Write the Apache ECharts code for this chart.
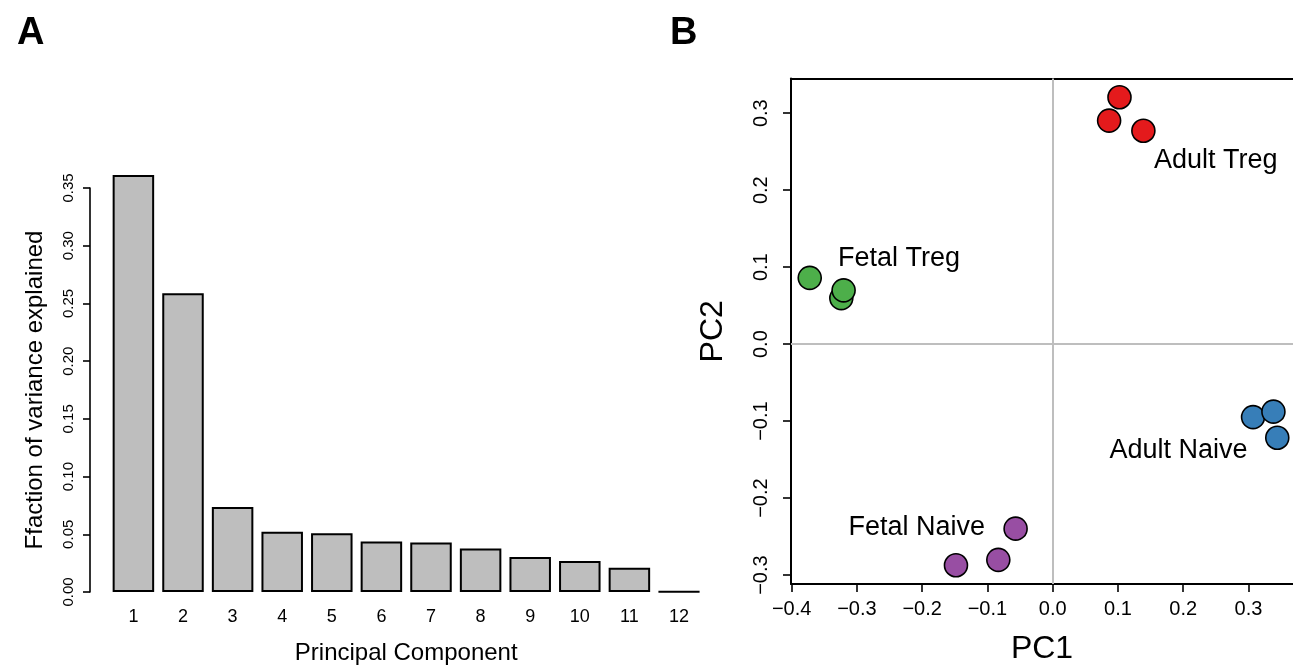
<!DOCTYPE html>
<html>
<head>
<meta charset="utf-8">
<style>
  html, body { margin: 0; padding: 0; background: #fff; }
  #main { width: 1293px; height: 670px; }
</style>
</head>
<body>
<div id="main"></div>
<script src="https://cdn.jsdelivr.net/npm/echarts@6/dist/echarts.min.js"></script>
<script>
// panel A: variance explained per principal component
var components = ['1', '2', '3', '4', '5', '6', '7', '8', '9', '10', '11', '12'];
var varianceFraction = [0.3612, 0.2588, 0.0737, 0.0523, 0.0509, 0.0437, 0.0429, 0.0377, 0.0303, 0.0269, 0.0211, 0.0003];

// panel B: PC1 / PC2 scores per group
var adultTreg  = [[0.1024, 0.3208], [0.0865, 0.2904], [0.1390, 0.2772]];
var fetalTreg  = [[-0.3723, 0.0861], [-0.3239, 0.0598], [-0.3204, 0.0699]];
var adultNaive = [[0.3071, -0.0948], [0.3383, -0.0877], [0.3442, -0.1216]];
var fetalNaive = [[-0.1482, -0.2873], [-0.0833, -0.2802], [-0.0568, -0.2397]];
var groupLabels = [
  [0.2499, 0.239, 'Adult Treg'],
  [-0.2355, 0.1115, 'Fetal Treg'],
  [0.1927, -0.1384, 'Adult Naive'],
  [-0.2083, -0.2382, 'Fetal Naive']
];
var pc1Ticks = [-0.4, -0.3, -0.2, -0.1, 0.0, 0.1, 0.2, 0.3];
var pc2Ticks = [-0.3, -0.2, -0.1, 0.0, 0.1, 0.2, 0.3];

var FONT = 'Liberation Sans, Arial, Helvetica, sans-serif';
function rnum(v, d) {
  var s = Math.abs(v).toFixed(d);
  return v < -1e-9 ? '\u2212' + s : s;
}

var chart = echarts.init(document.getElementById('main'));

function pointSeries(data, color) {
  return {
    type: 'scatter',
    xAxisIndex: 1, yAxisIndex: 1,
    data: data,
    symbolSize: 23,
    z: 4,
    itemStyle: { color: color, borderColor: '#000', borderWidth: 1.6, opacity: 1 },
    emphasis: { disabled: true }
  };
}

var boxLine = { show: true, onZero: false, lineStyle: { color: '#000', width: 2 } };
var PC1_MIN = -0.401, PC1_MAX = 0.3683;

var option = {
  animation: false,
  backgroundColor: '#fff',
  textStyle: { fontFamily: FONT, color: '#000' },
  title: [
    { text: 'A', left: 12, top: 10, textStyle: { fontSize: 38, fontWeight: 'bold', fontFamily: FONT, color: '#000' } },
    { text: 'B', left: 665, top: 10, textStyle: { fontSize: 38, fontWeight: 'bold', fontFamily: FONT, color: '#000' } }
  ],
  grid: [
    { left: 108.6, top: 188, width: 595.2, height: 406 },
    { left: 791, top: 78.5, right: 0, height: 505.5 }
  ],
  xAxis: [
    {
      type: 'category', gridIndex: 0, data: components,
      axisLine: { show: false }, axisTick: { show: false },
      axisLabel: { fontSize: 18, margin: 16, color: '#000', fontFamily: FONT },
      name: 'Principal Component', nameLocation: 'middle', nameGap: 49,
      nameTextStyle: { fontSize: 24, color: '#000', fontFamily: FONT }
    },
    {
      type: 'value', gridIndex: 1, min: PC1_MIN, max: PC1_MAX,
      axisLine: boxLine,
      axisTick: { show: true, length: 8, lineStyle: { color: '#000', width: 1.6 }, customValues: pc1Ticks },
      axisLabel: { fontSize: 20, margin: 15, color: '#000', fontFamily: FONT, customValues: pc1Ticks,
        formatter: function (v) { return rnum(v, 1); } },
      splitLine: { show: false },
      name: 'PC1', nameLocation: 'middle', nameGap: 49,
      nameTextStyle: { fontSize: 32, color: '#000', fontFamily: FONT }
    },
    {
      type: 'value', gridIndex: 1, position: 'top', min: PC1_MIN, max: PC1_MAX,
      axisLine: boxLine,
      axisTick: { show: false }, axisLabel: { show: false }, splitLine: { show: false }
    }
  ],
  yAxis: [
    {
      type: 'value', gridIndex: 0, min: 0, max: 0.35, interval: 0.05, offset: 18.6,
      axisLine: { show: true, onZero: false, lineStyle: { color: '#000', width: 1.6 } },
      axisTick: { show: true, length: 7, lineStyle: { color: '#000', width: 1.6 } },
      axisLabel: { fontSize: 15, rotate: 90, margin: 14, color: '#000', fontFamily: FONT,
        formatter: function (v) { return v.toFixed(2); } },
      splitLine: { show: false },
      name: 'Ffaction of variance explained', nameLocation: 'middle', nameGap: 43,
      nameTextStyle: { fontSize: 24, color: '#000', fontFamily: FONT }
    },
    {
      type: 'value', gridIndex: 1, min: -0.3116, max: 0.3451,
      axisLine: boxLine,
      axisTick: { show: true, length: 8, lineStyle: { color: '#000', width: 1.6 }, customValues: pc2Ticks },
      axisLabel: { fontSize: 20, rotate: 90, margin: 20, color: '#000', fontFamily: FONT, customValues: pc2Ticks,
        formatter: function (v) { return rnum(v, 1); } },
      splitLine: { show: false },
      name: 'PC2', nameLocation: 'middle', nameGap: 62,
      nameTextStyle: { fontSize: 32, color: '#000', fontFamily: FONT }
    }
  ],
  series: [
    {
      type: 'bar', xAxisIndex: 0, yAxisIndex: 0,
      data: varianceFraction,
      barWidth: 41.5,
      clip: false,
      itemStyle: { color: '#BEBEBE', borderColor: '#000', borderWidth: 2 },
      emphasis: { disabled: true }
    },
    {
      type: 'scatter', xAxisIndex: 1, yAxisIndex: 1, data: [], z: 1,
      markLine: {
        silent: true, symbol: ['none', 'none'],
        label: { show: false },
        lineStyle: { color: '#BEBEBE', width: 2, type: 'solid' },
        data: [{ xAxis: 0 }, { yAxis: 0 }]
      }
    },
    pointSeries(adultTreg, '#E41A1C'),
    pointSeries(fetalTreg, '#4DAF4A'),
    pointSeries(adultNaive, '#377EB8'),
    pointSeries(fetalNaive, '#984EA3'),
    {
      type: 'scatter', xAxisIndex: 1, yAxisIndex: 1,
      data: groupLabels, symbolSize: 0, z: 5,
      itemStyle: { color: '#000', opacity: 1 },
      label: {
        show: true, position: 'inside', fontSize: 27, color: '#000', fontFamily: FONT,
        textBorderWidth: 0, textBorderColor: 'transparent', opacity: 1,
        formatter: function (p) { return p.data[2]; }
      },
      emphasis: { disabled: true }
    }
  ]
};

chart.setOption(option);
</script>
</body>
</html>
